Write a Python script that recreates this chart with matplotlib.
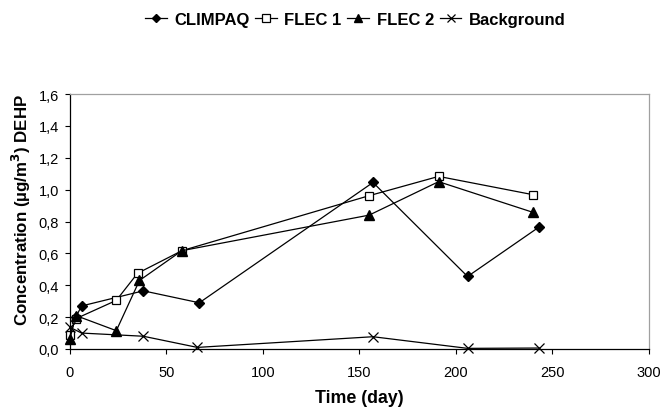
import matplotlib

matplotlib.use("Agg")
import matplotlib.pyplot as plt
from matplotlib.ticker import FuncFormatter

plt.rcParams["font.family"] = ["Liberation Sans", "DejaVu Sans"]

# days and concentrations (ug/m3 DEHP)
climpaq_day = [3, 6, 38, 67, 157, 206, 243]
climpaq_conc = [0.20, 0.27, 0.365, 0.29, 1.045, 0.455, 0.765]

flec1_day = [0, 3, 24, 35, 58, 155, 191, 240]
flec1_conc = [0.09, 0.19, 0.305, 0.475, 0.617, 0.962, 1.083, 0.968]

flec2_day = [0, 3, 24, 36, 58, 155, 191, 240]
flec2_conc = [0.065, 0.21, 0.115, 0.43, 0.617, 0.84, 1.05, 0.857]

bg_day = [0, 6, 38, 66, 157, 206, 243]
bg_conc = [0.136, 0.10, 0.08, 0.01, 0.077, 0.004, 0.006]

fig = plt.figure(figsize=(6.64, 4.14), dpi=100)
ax = fig.add_axes([0.1054, 0.1546, 0.8720, 0.6159])

line_kw = dict(color="black", lw=0.9, clip_on=False)
ax.plot(climpaq_day, climpaq_conc, marker="D", ms=5, mfc="black", label="CLIMPAQ", **line_kw)
ax.plot(flec1_day, flec1_conc, marker="s", ms=6, mfc="white", mew=0.9, label="FLEC 1", **line_kw)
ax.plot(flec2_day, flec2_conc, marker="^", ms=6.5, mfc="black", label="FLEC 2", **line_kw)
ax.plot(bg_day, bg_conc, marker="x", ms=6.5, mew=0.9, label="Background", **line_kw)

ax.set_xlim(0, 300)
ax.set_ylim(0, 1.6)
ax.set_xticks(range(0, 301, 50))
ax.set_yticks([0, 0.2, 0.4, 0.6, 0.8, 1.0, 1.2, 1.4, 1.6])
ax.yaxis.set_major_formatter(FuncFormatter(lambda v, _: f"{v:.1f}".replace(".", ",")))
ax.tick_params(direction="out", length=3.8, width=0.8, labelsize=10.5, colors="black")
ax.tick_params(axis="x", pad=8)
ax.tick_params(axis="y", pad=4)

for side in ("top", "right"):
    ax.spines[side].set_color("#a0a0a0")
    ax.spines[side].set_linewidth(0.9)
for side in ("left", "bottom"):
    ax.spines[side].set_color("black")
    ax.spines[side].set_linewidth(0.9)

ax.set_xlabel("Time (day)", fontsize=12.8, fontweight="bold", labelpad=7)
ax.set_ylabel(r"Concentration (µg/m$^\mathbf{3}$) DEHP", fontsize=12.2, fontweight="bold")
ax.yaxis.set_label_coords(-0.064, 0.55)

fig.legend(
    loc="center",
    bbox_to_anchor=(0.535, 0.951),
    ncol=4,
    frameon=False,
    prop={"weight": "bold", "size": 12},
    handlelength=1.3,
    handletextpad=0.45,
    columnspacing=0.35,
    markerscale=0.85,
)

fig.savefig("out.png", dpi=100)
